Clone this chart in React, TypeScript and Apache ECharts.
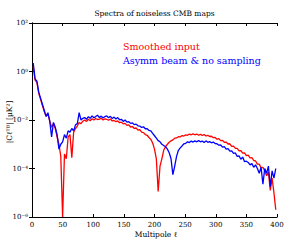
import React, { useEffect, useRef } from "react";
import * as echarts from "echarts";

const titleText = "Spectra of noiseless CMB maps";
const yAxisTitle = "|C\u2113\u1D40\u1D2E| [\u03BCK\u00B2]";
const xAxisTitle = "Multipole \u2113";
const seriesNames = ["Smoothed input", "Asymm beam & no sampling"];
const seriesColors = ["#ff0000", "#0000ff"];
const xTicks = [0, 50, 100, 150, 200, 250, 300, 350, 400];
const yTickExponents = [-6, -4, -2, 0, 2];

const multipoles = [
  2, 5, 8, 11, 14, 17, 20, 23, 26, 29, 32, 35, 38, 41, 44, 47, 50, 53, 56, 59,
  62, 65, 68, 71, 74, 77, 80, 83, 86, 89, 92, 95, 98, 101, 104, 107, 110, 113, 116, 119,
  122, 125, 128, 131, 134, 137, 140, 143, 146, 149, 152, 155, 158, 161, 164, 167, 170, 173, 176, 179,
  182, 185, 188, 191, 194, 197, 200, 203, 206, 209, 212, 215, 218, 221, 224, 227, 230, 233, 236, 239,
  242, 245, 248, 251, 254, 257, 260, 263, 266, 269, 272, 275, 278, 281, 284, 287, 290, 293, 296, 299,
  302, 305, 308, 311, 314, 317, 320, 323, 326, 329, 332, 335, 338, 341, 344, 347, 350, 353, 356, 359,
  362, 365, 368, 371, 374, 377, 380, 383, 386, 389, 392, 395, 398,
];

// log10 of |C_l^TB|
const smoothedLog10 = [
  0.2, -0.35, -0.45, -0.9, -1.15, -1.4, -1.65, -1.85, -1.75, -2.05, -2.3, -2.15, -2.35, -2.7, -3.0, -3.5, -6.0, -3.4, -3.6, -2.7,
  -2.6, -3.55, -2.5, -2.35, -2.25, -2.1, -2.15, -2.05, -2.0, -2.06, -1.97, -2.03, -1.95, -2.0, -1.94, -1.98, -1.96, -1.93, -2.0, -1.95,
  -1.97, -2.01, -1.96, -2.04, -2.02, -2.07, -2.04, -2.11, -2.09, -2.16, -2.14, -2.22, -2.2, -2.29, -2.27, -2.35, -2.33, -2.42, -2.4, -2.5,
  -2.52, -2.6, -2.63, -2.72, -2.8, -2.95, -3.2, -3.6, -4.95, -3.9, -3.6, -3.25, -3.1, -3.0, -2.92, -2.86, -2.82, -2.75, -2.74, -2.69,
  -2.7, -2.64, -2.66, -2.61, -2.63, -2.58, -2.61, -2.57, -2.61, -2.58, -2.63, -2.59, -2.64, -2.6, -2.66, -2.63, -2.68, -2.67, -2.73, -2.72,
  -2.79, -2.77, -2.85, -2.84, -2.92, -2.91, -2.99, -2.98, -3.09, -3.08, -3.17, -3.17, -3.27, -3.26, -3.37, -3.36, -3.47, -3.45, -3.56, -3.55,
  -3.67, -3.69, -3.82, -3.82, -3.97, -3.95, -4.1, -4.3, -4.15, -4.9, -4.4, -5.0, -5.7,
];

const asymmLog10 = [
  0.35, -0.3, -0.4, -0.85, -1.1, -1.35, -1.6, -1.85, -1.7, -2.05, -2.7, -2.1, -2.3, -2.6, -3.2, -3.0, -2.9, -2.6, -2.75, -2.45,
  -2.5, -2.35, -2.45, -2.2, -2.15, -1.7, -2.0, -1.93, -1.9, -1.97, -1.86, -1.93, -1.83, -1.91, -1.86, -1.8, -1.9, -1.84, -1.92, -1.86,
  -1.83, -1.91, -1.85, -1.94, -1.88, -1.96, -1.9, -1.99, -1.97, -2.06, -2.0, -2.09, -2.07, -2.14, -2.12, -2.19, -2.17, -2.24, -2.25, -2.31,
  -2.28, -2.36, -2.36, -2.43, -2.45, -2.55, -2.65, -2.75, -2.85, -2.9, -3.0, -3.05, -3.1, -3.2, -3.35, -3.6, -4.25, -3.9, -3.5, -3.25,
  -3.15, -3.07, -2.98, -2.96, -2.9, -2.93, -2.87, -2.91, -2.86, -2.9, -2.85, -2.9, -2.87, -2.93, -2.86, -2.92, -2.89, -2.94, -2.91, -2.97,
  -2.98, -3.04, -3.03, -3.12, -3.1, -3.2, -3.18, -3.28, -3.27, -3.38, -3.36, -3.5, -3.48, -3.62, -3.53, -3.72, -3.7, -3.75, -3.85, -3.8,
  -3.95, -3.85, -4.0, -4.2, -3.95, -4.65, -4.0, -4.2, -3.9, -4.75, -4.1, -4.4, -4.0,
];

const SUP: Record<string, string> = {
  "-": "\u207B", "0": "\u2070", "1": "\u00B9", "2": "\u00B2", "3": "\u00B3",
  "4": "\u2074", "5": "\u2075", "6": "\u2076", "7": "\u2077", "8": "\u2078", "9": "\u2079",
};

const FONT = "DejaVu Serif";

export default function App() {
  const ref = useRef<HTMLDivElement>(null);
  useEffect(() => {
    if (!ref.current) return;
    const chart = echarts.init(ref.current, undefined, { renderer: "svg" });
    const toPairs = (logs: number[]) => multipoles.map((l, i) => [l, Math.pow(10, logs[i])]);
    const axisLine = { show: true, lineStyle: { color: "#000", width: 1 } };
    const tick = { show: true, inside: true, length: 3, lineStyle: { color: "#000" } };
    const yMin = Math.pow(10, yTickExponents[0]);
    const yMax = Math.pow(10, yTickExponents[yTickExponents.length - 1]);
    chart.setOption({
      animation: false,
      backgroundColor: "#fff",
      grid: { left: 32, right: 9, top: 23, bottom: 23, containLabel: false, outerBoundsMode: "none" },
      xAxis: [
        {
          type: "value",
          min: xTicks[0],
          max: xTicks[xTicks.length - 1],
          interval: 50,
          axisLine,
          axisTick: tick,
          axisLabel: { color: "#000", fontFamily: FONT, fontSize: 7, margin: 4 },
          splitLine: { show: false },
        },
        {
          type: "value",
          position: "top",
          min: xTicks[0],
          max: xTicks[xTicks.length - 1],
          interval: 50,
          axisLine,
          axisTick: tick,
          axisLabel: { show: false },
          splitLine: { show: false },
        },
      ],
      yAxis: [
        {
          type: "log",
          logBase: 10,
          min: yMin,
          max: yMax,
          interval: 2,
          axisLine,
          axisTick: tick,
          axisLabel: {
            color: "#000",
            fontFamily: FONT,
            fontSize: 7,
            margin: 4,
            formatter: (v: number) => {
              const e = Math.round(Math.log10(v));
              return "10" + String(e).split("").map((c) => SUP[c] || c).join("");
            },
          },
          splitLine: { show: false },
        },
        {
          type: "log",
          logBase: 10,
          position: "right",
          min: yMin,
          max: yMax,
          interval: 2,
          axisLine,
          axisTick: tick,
          axisLabel: { show: false },
          splitLine: { show: false },
        },
      ],
      graphic: [
        {
          type: "text",
          x: 154.5,
          y: 13,
          style: {
            text: titleText,
            fill: "#000",
            font: `7.5px "${FONT}"`,
            align: "center",
            verticalAlign: "middle",
          },
        },
        {
          type: "text",
          x: 156,
          y: 234,
          style: {
            text: xAxisTitle,
            fill: "#000",
            font: `7.5px "${FONT}"`,
            align: "center",
            verticalAlign: "middle",
          },
        },
        {
          type: "text",
          x: 9,
          y: 122,
          rotation: Math.PI / 2,
          style: {
            text: yAxisTitle,
            fill: "#000",
            font: `7.5px "${FONT}"`,
            align: "center",
            verticalAlign: "middle",
          },
        },
        {
          type: "text",
          x: 123,
          y: 46.5,
          style: {
            text: seriesNames[0],
            fill: seriesColors[0],
            font: `9.5px "${FONT}"`,
            align: "left",
            verticalAlign: "middle",
          },
        },
        {
          type: "text",
          x: 123,
          y: 60.5,
          style: {
            text: seriesNames[1],
            fill: seriesColors[1],
            font: `9.5px "${FONT}"`,
            align: "left",
            verticalAlign: "middle",
          },
        },
      ],
      series: [
        {
          name: seriesNames[0],
          type: "line",
          data: toPairs(smoothedLog10),
          showSymbol: false,
          symbol: "none",
          lineStyle: { color: seriesColors[0], width: 1.3 },
          z: 2,
        },
        {
          name: seriesNames[1],
          type: "line",
          data: toPairs(asymmLog10),
          showSymbol: false,
          symbol: "none",
          lineStyle: { color: seriesColors[1], width: 1.3 },
          z: 3,
        },
      ],
    });
    return () => chart.dispose();
  }, []);
  return (
    <div
      ref={ref}
      style={{ position: "fixed", left: 0, top: 0, width: 286, height: 240, background: "#fff" }}
    />
  );
}
